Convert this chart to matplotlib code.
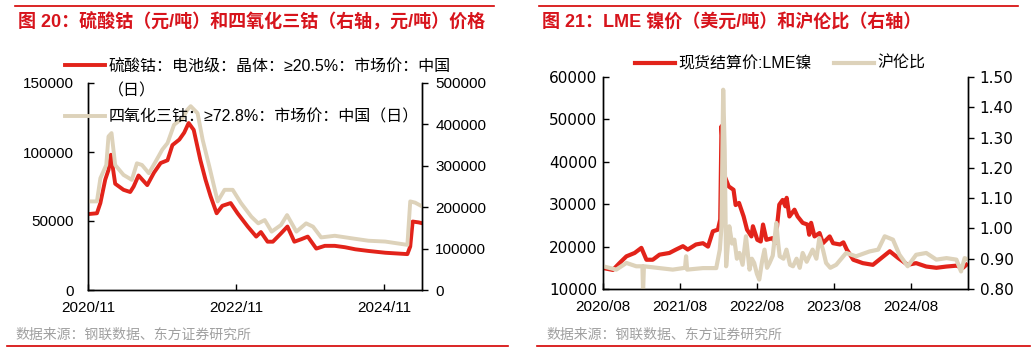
import matplotlib
matplotlib.use("Agg")
import matplotlib.pyplot as plt
import matplotlib.dates as mdates
import pandas as pd

plt.rcParams.update({
    "font.family": ["Liberation Sans", "Noto Sans CJK SC", "DejaVu Sans"],
    "axes.spines.top": False,
    "axes.linewidth": 1.0,
})

RED = "#e2231a"
BEIGE = "#ddd2ba"
TITLE_RED = "#d7141c"
CJK = ["Liberation Sans", "Noto Sans CJK SC", "DejaVu Sans"]

# ---- Fig 20: cobalt sulfate (left axis) and cobalt tetroxide (right axis), CNY/t
co_dates = [
    "2020-11-01", "2020-12-15", "2021-01-01", "2021-01-25", "2021-02-10", "2021-02-22",
    "2021-03-15", "2021-04-25", "2021-05-28", "2021-06-14", "2021-07-08", "2021-08-20",
    "2021-09-22", "2021-10-25", "2021-11-28", "2021-12-22", "2022-01-25", "2022-02-18",
    "2022-03-12", "2022-04-06", "2022-05-09", "2022-06-03", "2022-06-28", "2022-07-28",
    "2022-08-25", "2022-10-05", "2022-11-08", "2022-12-28", "2023-02-08", "2023-03-03",
    "2023-04-05", "2023-05-01", "2023-06-10", "2023-07-12", "2023-08-15", "2023-09-18",
    "2023-10-20", "2023-12-01", "2024-01-12", "2024-03-01", "2024-04-20", "2024-06-10",
    "2024-08-14", "2024-11-05", "2025-02-22", "2025-03-08", "2025-03-20", "2025-04-18",
    "2025-05-05",
]
cobalt_sulfate = [
    55000, 55600, 63000, 80000, 87000, 98000,
    77000, 72600, 71000, 75000, 83000, 76000,
    85000, 92000, 94000, 105000, 109000, 114000,
    121000, 116000, 94000, 80000, 68000, 55600,
    61000, 63000, 55600, 46000, 38700, 42000,
    35000, 35000, 41000, 46000, 35000, 36800,
    38700, 30000, 32000, 32000, 31000, 29500,
    28300, 27000, 26000, 31500, 49600, 49000,
    48400,
]

co3o4_dates = [
    "2020-11-01", "2020-12-15", "2021-01-01", "2021-01-30", "2021-02-10", "2021-02-25",
    "2021-03-15", "2021-04-25", "2021-06-05", "2021-06-30", "2021-07-25", "2021-08-28",
    "2021-09-30", "2021-11-02", "2021-11-28", "2021-12-30", "2022-02-10", "2022-03-05",
    "2022-03-22", "2022-04-25", "2022-05-20", "2022-06-22", "2022-08-02", "2022-09-05",
    "2022-10-15", "2022-11-25", "2023-01-15", "2023-02-18", "2023-03-22", "2023-04-25",
    "2023-06-10", "2023-07-10", "2023-08-25", "2023-10-12", "2023-11-15", "2023-12-25",
    "2024-03-01", "2024-05-22", "2024-08-14", "2024-11-05", "2025-02-22", "2025-03-08",
    "2025-04-01", "2025-05-05",
]
cobalt_tetroxide = [
    214000, 214000, 270000, 302000, 371000, 379000,
    302000, 278000, 266000, 306000, 302000, 282000,
    310000, 339000, 355000, 399000, 415000, 435000,
    444000, 427000, 363000, 298000, 214000, 242000,
    242000, 210000, 177000, 161000, 169000, 141000,
    157000, 181000, 141000, 161000, 153000, 127000,
    131000, 125000, 119000, 117000, 109000, 214000,
    211000, 202000,
]

# ---- Fig 21: LME nickel (USD/t) and SHFE/LME ratio (right axis)
ni_dates = [
    "2020-08-01", "2020-09-17", "2020-10-18", "2020-11-20", "2020-12-29", "2021-01-30",
    "2021-02-23", "2021-03-25", "2021-04-26", "2021-06-12", "2021-07-13", "2021-08-15",
    "2021-09-07", "2021-10-16", "2021-11-18", "2021-12-12", "2022-01-04", "2022-01-28",
    "2022-02-08", "2022-02-14", "2022-03-01", "2022-03-20", "2022-04-12", "2022-04-22",
    "2022-05-08", "2022-05-30", "2022-06-15", "2022-07-06", "2022-07-13", "2022-08-03",
    "2022-08-19", "2022-08-30", "2022-09-15", "2022-10-14", "2022-10-27", "2022-11-15",
    "2022-12-01", "2022-12-14", "2022-12-20", "2023-01-02", "2023-01-26", "2023-02-10",
    "2023-03-06", "2023-03-29", "2023-04-06", "2023-04-15", "2023-05-01", "2023-05-25",
    "2023-06-10", "2023-07-12", "2023-07-28", "2023-08-30", "2023-09-15", "2023-10-01",
    "2023-11-01", "2023-12-16", "2024-02-02", "2024-03-13", "2024-04-22", "2024-06-01",
    "2024-07-16", "2024-08-25", "2024-10-12", "2024-11-29", "2025-01-16", "2025-03-04",
    "2025-04-04", "2025-04-20",
]
lme_nickel = [
    14950, 14500, 16100, 17700, 18500, 19700,
    16900, 16900, 18100, 18500, 19300, 20100,
    19300, 20500, 20800, 20000, 23600, 24000,
    26400, 48400, 36600, 34200, 33400, 29800,
    30300, 27100, 24000, 22400, 24800, 21600,
    21200, 25200, 21600, 22000, 20800, 29900,
    31000, 29500, 31500, 27100, 28700, 27100,
    25600, 25200, 22800, 25600, 22400, 23200,
    20800, 22400, 20800, 20500, 21000, 19300,
    16900, 16100, 15700, 17300, 18900, 17300,
    15700, 16100, 15300, 15000, 15300, 15500,
    15000, 15700,
]

ratio_dates = [
    "2020-08-01", "2020-10-03", "2020-11-20", "2021-01-06", "2021-02-04", "2021-02-07",
    "2021-02-11", "2021-04-26", "2021-06-28", "2021-08-25", "2021-08-30", "2021-09-04",
    "2021-11-18", "2022-01-20", "2022-02-06", "2022-02-14", "2022-02-22", "2022-03-01",
    "2022-03-08", "2022-03-23", "2022-04-05", "2022-04-16", "2022-04-28", "2022-05-10",
    "2022-05-25", "2022-06-10", "2022-06-27", "2022-07-08", "2022-07-19", "2022-08-01",
    "2022-08-12", "2022-08-25", "2022-09-06", "2022-09-18", "2022-09-30", "2022-10-15",
    "2022-11-01", "2022-11-10", "2022-11-17", "2022-12-05", "2022-12-19", "2023-01-05",
    "2023-01-19", "2023-02-05", "2023-02-20", "2023-03-06", "2023-03-25", "2023-04-22",
    "2023-05-10", "2023-05-24", "2023-06-10", "2023-06-25", "2023-07-15", "2023-08-12",
    "2023-09-28", "2023-11-14", "2024-01-17", "2024-02-27", "2024-03-29", "2024-05-07",
    "2024-06-07", "2024-07-16", "2024-08-25", "2024-10-12", "2024-11-29", "2025-01-16",
    "2025-03-04", "2025-03-26", "2025-04-12", "2025-04-28",
]
shfe_lme_ratio = [
    0.875, 0.864, 0.886, 0.875, 0.875, 0.790,
    0.875, 0.869, 0.864, 0.870, 0.908, 0.864,
    0.869, 0.869, 0.930, 1.007, 1.458, 1.260,
    0.875, 1.007, 0.950, 0.963, 0.900, 0.919,
    0.880, 0.974, 0.864, 0.900, 0.886, 0.850,
    0.831, 0.890, 0.930, 0.870, 0.886, 0.910,
    1.018, 0.950, 0.908, 0.900, 0.930, 0.880,
    0.875, 0.900, 0.870, 0.919, 0.890, 0.930,
    0.900, 0.968, 0.930, 0.886, 0.870, 0.880,
    0.919, 0.908, 0.924, 0.930, 0.974, 0.963,
    0.913, 0.875, 0.913, 0.919, 0.897, 0.902,
    0.897, 0.858, 0.902, 0.897,
]

W, H = 1032, 352
fig = plt.figure(figsize=(W / 100, H / 100), dpi=100)


def px_axes(x0, x1, ytop, ybot):
    return fig.add_axes([x0 / W, 1 - ybot / H, (x1 - x0) / W, (ybot - ytop) / H])


def style_pair(ax, axr, lpad, rpad, rfont):
    ax.tick_params(axis="both", direction="in", length=4, width=1, labelsize=11,
                   colors="black")
    ax.tick_params(axis="x", pad=8)
    ax.tick_params(axis="y", pad=lpad)
    axr.tick_params(axis="y", direction="out", length=4, width=1, labelsize=11,
                    pad=rpad, colors="black")
    axr.spines["top"].set_visible(False)
    for a in (ax, axr):
        for s in a.spines.values():
            s.set_color("black")
    if rfont:
        for lab in ax.get_yticklabels() + axr.get_yticklabels():
            lab.set_family(rfont)


def frame(x0, x1, title):
    fig.add_artist(plt.Line2D([x0 / W, x1 / W], [1 - 6 / H] * 2, color="#d40000", lw=1.2))
    fig.text((x0 + 3) / W, 1 - 22 / H, title, color=TITLE_RED, fontsize=13,
             fontweight="bold", family=["Liberation Sans", "Noto Sans CJK SC"], va="center")


# ---------------- left chart
frame(15, 494, "图 20：硫酸钴（元/吨）和四氧化三钴（右轴，元/吨）价格")
ax1 = px_axes(88, 422, 83, 290)
ax1b = ax1.twinx()
l1, = ax1.plot(pd.to_datetime(co_dates), cobalt_sulfate, color=RED, lw=2.8)
l2, = ax1b.plot(pd.to_datetime(co3o4_dates), cobalt_tetroxide, color=BEIGE, lw=2.8)
ax1.set_ylim(0, 150000)
ax1.set_yticks(range(0, 150001, 50000))
ax1b.set_ylim(0, 500000)
ax1b.set_yticks(range(0, 500001, 100000))
ax1.set_xlim(pd.Timestamp("2020-11-01"), pd.Timestamp("2025-05-05"))
ax1.set_xticks(pd.to_datetime(["2020-11-01", "2022-11-01", "2024-11-01"]))
ax1.xaxis.set_major_formatter(mdates.DateFormatter("%Y/%m"))
style_pair(ax1, ax1b, 10, 5.5, None)
blank = plt.Line2D([], [], color="none")
fig.legend(handles=[l1, blank, l2],
           labels=["硫酸钴：电池级：晶体：≥20.5%：市场价：中国", "（日）",
                   "四氧化三钴：≥72.8%：市场价：中国（日）"],
           loc="upper left", bbox_to_anchor=(65 / W, 1 - 58 / H),
           frameon=False, handlelength=2.5, handletextpad=0.2,
           labelspacing=0.64, borderpad=0, borderaxespad=0,
           prop={"family": CJK, "size": 11.5})

# ---------------- right chart
frame(539, 1018, "图 21：LME 镍价（美元/吨）和沪伦比（右轴）")
ax2 = px_axes(603, 968, 77, 289)
ax2b = ax2.twinx()
r1, = ax2.plot(pd.to_datetime(ni_dates), lme_nickel, color=RED, lw=3.0,
               label="现货结算价:LME镍")
r2, = ax2b.plot(pd.to_datetime(ratio_dates), shfe_lme_ratio, color=BEIGE, lw=3.0,
                label="沪伦比")
ax2.set_ylim(10000, 60000)
ax2.set_yticks(range(10000, 60001, 10000))
ax2b.set_ylim(0.8, 1.5)
ax2b.set_yticks([0.8, 0.9, 1.0, 1.1, 1.2, 1.3, 1.4, 1.5])
ax2b.yaxis.set_major_formatter(plt.FormatStrFormatter("%.2f"))
ax2.set_xlim(pd.Timestamp("2020-08-01"), pd.Timestamp("2025-04-28"))
ax2.set_xticks(pd.to_datetime(["2020-08-01", "2021-08-01", "2022-08-01",
                               "2023-08-01", "2024-08-01"]))
ax2.xaxis.set_major_formatter(mdates.DateFormatter("%Y/%m"))
style_pair(ax2, ax2b, 4, 4.5, "DejaVu Sans")
fig.legend(handles=[r1, r2], loc="upper left", bbox_to_anchor=(635 / W, 1 - 56 / H),
           ncol=2, frameon=False, handlelength=2.5, handletextpad=0.2,
           columnspacing=1.4, borderpad=0, borderaxespad=0,
           prop={"family": CJK, "size": 11.5})

# ---------------- sources and bottom rules
for x0, x1, tx in [(7, 508, 15), (537, 1030, 546)]:
    fig.text(tx / W, 1 - 335 / H, "数据来源：钢联数据、东方证券研究所", color="#a0a0a0",
             fontsize=10, family=["Noto Sans CJK SC"], va="center")
    fig.add_artist(plt.Line2D([x0 / W, x1 / W], [1 - 346 / H] * 2, color="#d40000", lw=1.2))

fig.savefig("out.png", dpi=100)
